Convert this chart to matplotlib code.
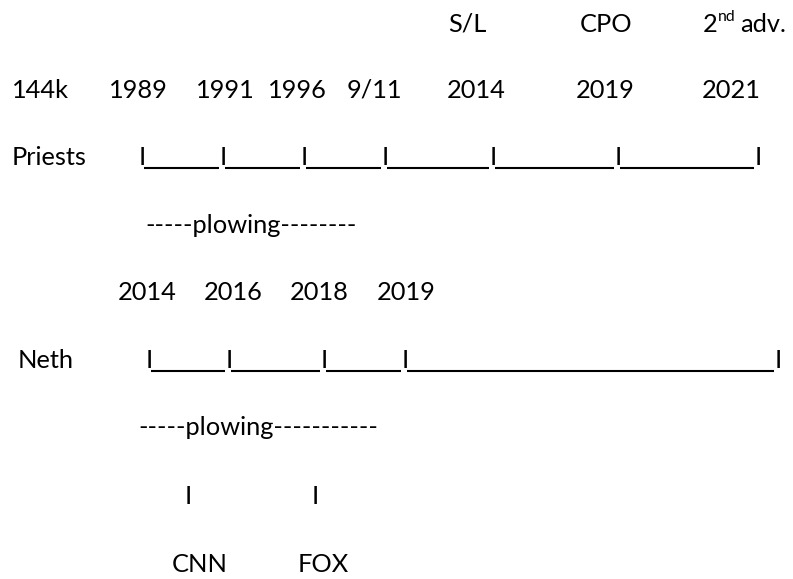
import matplotlib
matplotlib.use("Agg")
import matplotlib.pyplot as plt

# ---- content ----
top_events = ["S/L", "CPO"]
top_event_x = [448, 580]
last_event_base, last_event_sup, last_event_rest = "2", "nd", "adv."

priests_labels = ["144k", "1989", "1991", "1996", "9/11", "2014", "2019", "2021"]
priests_label_x = [12, 109, 196, 268, 347, 447, 576, 702]
priests_ticks_x = [139, 220, 301, 382, 490, 615, 755]

plow1_text = "-----plowing--------"
neth_years = ["2014", "2016", "2018", "2019"]
neth_year_x = [118, 204, 290, 377]
neth_ticks_x = [146, 226, 321, 402, 775]
plow2_text = "-----plowing-----------"
media = ["CNN", "FOX"]
media_x = [172, 298]
media_tick_x = [185, 312]

row_names = ["Priests", "Neth"]
row_name_x = [12, 18]

# baselines (pixel rows)
baselines = [32, 98, 165, 233, 300, 368, 435, 504, 572]

W, H = 793, 579
FS = 18.3
FAM = ["Lato", "DejaVu Sans"]
COL = "#000000"

fig = plt.figure(figsize=(W / 100, H / 100), dpi=100)
ax = fig.add_axes([0, 0, 1, 1])
ax.set_xlim(0, W)
ax.set_ylim(H, 0)
ax.axis("off")


def txt(x, y, s, size=FS):
    ax.text(x, y, s, fontsize=size, family=FAM, color=COL,
            ha="left", va="baseline")


def timeline(ticks, y):
    for t in ticks:
        txt(t, y, "I")
    for a, b in zip(ticks[:-1], ticks[1:]):
        ax.plot([a + 5, b - 1], [y + 3, y + 3], color=COL, lw=1.5,
                solid_capstyle="butt")


# row 1: events
for s, x in zip(top_events, top_event_x):
    txt(x, baselines[0], s)
txt(703, baselines[0], last_event_base)
txt(718, baselines[0] - 11, last_event_sup, size=FS * 0.62)
txt(740, baselines[0], last_event_rest)

# row 2: priests dates
for s, x in zip(priests_labels, priests_label_x):
    txt(x, baselines[1], s)

# row 3: priests timeline
txt(row_name_x[0], baselines[2], row_names[0])
timeline(priests_ticks_x, baselines[2])

# row 4: plowing
txt(145, baselines[3], plow1_text)

# row 5: neth years
for s, x in zip(neth_years, neth_year_x):
    txt(x, baselines[4], s)

# row 6: neth timeline
txt(row_name_x[1], baselines[5], row_names[1])
timeline(neth_ticks_x, baselines[5])

# row 7: plowing
txt(138, baselines[6], plow2_text)

# row 8: markers
for x in media_tick_x:
    txt(x, baselines[7], "I")

# row 9: media
for s, x in zip(media, media_x):
    txt(x, baselines[8], s)

fig.savefig("out.png", dpi=100, facecolor="white")
